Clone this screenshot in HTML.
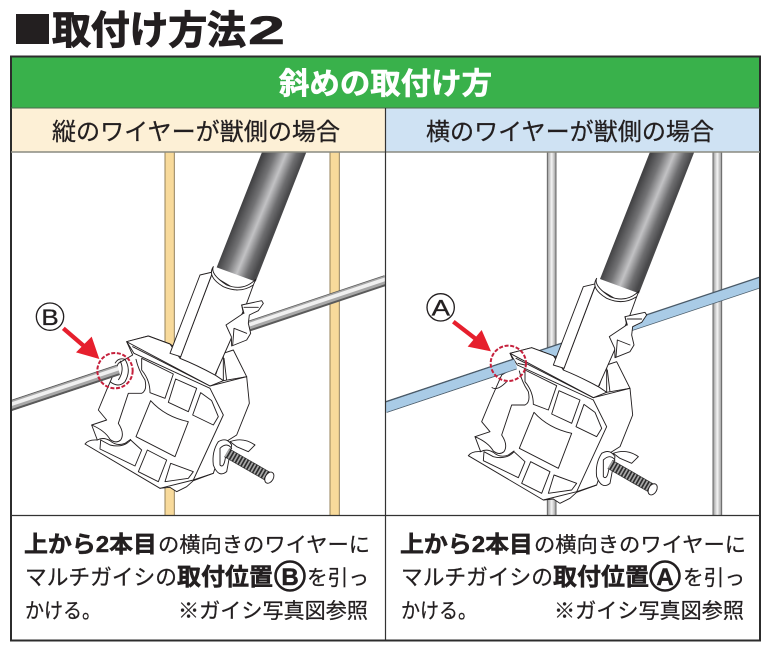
<!DOCTYPE html>
<html lang="ja"><head><meta charset="utf-8"><style>
html,body{margin:0;padding:0;background:#fff}
svg{display:block}
text{font-family:"Liberation Sans","Noto Sans CJK JP",sans-serif;fill:#231f20;stroke:#231f20;stroke-width:.25px}
.b{font-weight:700;stroke-width:.5px}
</style></head><body>
<svg width="771" height="648" viewBox="0 0 771 648" xmlns="http://www.w3.org/2000/svg">
<defs>
<linearGradient id="pipe" gradientUnits="userSpaceOnUse" x1="690" y1="180" x2="797" y2="224">
<stop offset="0" stop-color="#434345"/><stop offset=".28" stop-color="#737375"/><stop offset=".55" stop-color="#c2c2c4"/><stop offset=".8" stop-color="#6e6e70"/><stop offset="1" stop-color="#48484a"/>
</linearGradient>
<linearGradient id="vg" x1="0" x2="1" y1="0" y2="0"><stop offset="0" stop-color="#999"/><stop offset=".5" stop-color="#f4f4f4"/><stop offset="1" stop-color="#999"/></linearGradient>
<clipPath id="cl"><rect x="-1" y="6" width="1130" height="1091"/></clipPath>
<g id="clamp" stroke="#231f20" stroke-width="2.800" stroke-linejoin="round" stroke-linecap="round" fill="#fff">
<polygon points="782,-60 915,-60 737,395 620,352" fill="url(#pipe)" stroke="none"/>
<!-- back gusset -->
<path d="M640 610 L670 600 L710 680 L640 695Z"/>
<path d="M635 618 L618 672 M642 625 L650 692" fill="none"/>
<!-- body silhouette -->
<path d="M350 575 L415 558 L480 582 L615 675 L640 692 L710 680 L718 760 L680 855 L640 880 L610 970 L550 992 L530 1010 L500 1025 L480 1012 L450 1015 L225 882 Q235 868 262 870 L245 825 L290 810 L265 780 L292 715 L325 640 L368 615Z"/>
<!-- plate -->
<path d="M350 575 L415 558 L480 582 L510 625 Q560 645 615 675 L640 692 L600 708Z"/>
<path d="M352 578 L372 610 L600 715 M368 590 L600 708" fill="none"/>
<!-- frame edge -->
<path d="M600 715 L640 795 L550 990 L450 1015 M600 708 L710 680 M550 990 L610 970" fill="none"/>
<!-- slot -->
<path d="M378 628 Q385 660 405 690 Q412 722 395 730 L355 730 L325 820 Q345 850 332 870 Q318 882 300 868 Q285 842 245 825" fill="none"/>
<path d="M262 870 Q280 860 300 872 Q320 890 345 880 L362 868" fill="none"/>
<!-- windows -->
<path d="M395 625 L490 672 L465 745 L420 728 Q420 690 395 660Z"/>
<path d="M497 687 L560 715 L535 785 L475 757Z"/>
<path d="M572 728 L605 752 L625 800 L610 825 L548 795Z"/>
<path d="M422 752 Q465 800 535 815 L495 920 L378 860Z"/>
<path d="M272 870 L300 885 Q340 895 362 870 L395 900 L375 948 L270 897Z"/>
<path d="M412 900 L470 930 L445 995 L385 965Z"/>
<path d="M482 940 L550 965 L535 985 L465 995Z"/>
<!-- bolt & wing nut -->
<path d="M660 875 Q700 860 735 885 L715 905 L680 890Z"/>
<path d="M625 875 Q650 860 665 885 L650 965 Q625 985 610 945 Q605 905 625 875Z"/>
<path d="M630 895 Q650 875 665 895 Q648 905 645 930 Q640 955 630 945Z"/>
<line x1="650" y1="908" x2="775" y2="980" stroke="#2c2c2c" stroke-width="30" stroke-linecap="butt"/>
<line x1="650" y1="908" x2="775" y2="980" stroke="#a8a8a8" stroke-width="26" stroke-dasharray="5 5" stroke-linecap="butt"/>
<ellipse cx="778" cy="983" rx="12" ry="18" transform="rotate(30 778 983)"/>
<!-- sleeve -->
<path d="M605 375 L680 420 L730 405 L710 460 L655 585 L615 675 Q560 645 510 625 Z"/>
<path d="M570 375 L608 366 L512 620 L480 610Z"/>
<path d="M610 350 Q600 372 650 405 Q700 425 737 388 L730 405 Q690 432 640 410 Q590 380 610 350Z"/>
<!-- clip -->
<path d="M695 465 L755 452 L760 460 L745 482 L718 495 L715 520 L722 550 L710 570 L665 588 L664 560 L648 525 L700 490Z"/>
<path d="M672 535 L710 550 M668 585 L672 535 M702 472 L745 472 M695 465 L702 490" fill="none"/>
</g>
</defs>

<!-- title -->
<rect x="16" y="14" width="33" height="30" fill="#231f20"/>
<text x="52" y="44" class="b" font-size="39" style="stroke-width:1px" textLength="194" lengthAdjust="spacing">取付け方法</text>
<text x="248" y="44" class="b" font-size="40" style="stroke-width:.6px" textLength="37" lengthAdjust="spacingAndGlyphs">2</text>

<!-- frame fills -->
<rect x="11" y="57" width="749" height="51" fill="#39b14b"/>
<rect x="11" y="108" width="374" height="44" fill="#fdf0d6"/>
<rect x="385" y="108" width="375" height="44" fill="#cfe2f3"/>

<!-- left panel -->
<svg x="10" y="150" width="376" height="366" viewBox="0 0 1128 1098">
<g clip-path="url(#cl)">
<rect x="465" y="0" width="28" height="1100" fill="#f8da9b" stroke="#94825a" stroke-width="3"/>
<rect x="960" y="0" width="28" height="1100" fill="#f8da9b" stroke="#94825a" stroke-width="3"/>
<path d="M0 768 L1128 391" stroke="#5a5a5a" stroke-width="32" fill="none"/>
<path d="M0 766 L1128 389" stroke="#a8a8a8" stroke-width="24" fill="none"/>
<path d="M0 764 L1128 387" stroke="#f0f0f0" stroke-width="11" fill="none"/>
<use href="#clamp"/>
<path d="M0 768 L325 660" stroke="#5a5a5a" stroke-width="32" fill="none"/>
<path d="M0 766 L325 658" stroke="#a8a8a8" stroke-width="24" fill="none"/>
<path d="M0 764 L325 656" stroke="#f0f0f0" stroke-width="11" fill="none"/>
<path d="M315 640 Q325 622 345 628 Q365 660 345 695 Q325 715 300 695" fill="none" stroke="#231f20" stroke-width="2.800"/>
<path d="M330 632 Q345 660 325 690" fill="none" stroke="#231f20" stroke-width="2.800"/>
<circle cx="315" cy="662" r="53" fill="none" stroke="#c5203c" stroke-width="6" stroke-dasharray="12 5"/>
<path d="M160 535 L232 597" stroke="#e61f2d" stroke-width="13" fill="none"/>
<polygon points="245,560 268,627 198,607" fill="#e61f2d"/>
<circle cx="120" cy="500" r="41" fill="#fff" stroke="#231f20" stroke-width="4"/>
<text x="94" y="525" font-size="66" textLength="52" lengthAdjust="spacingAndGlyphs" style="stroke-width:1px">B</text>
</g>
</svg>

<!-- right panel -->
<svg x="385" y="150" width="376" height="366" viewBox="0 0 1128 1098">
<g clip-path="url(#cl)">
<rect x="487" y="0" width="26" height="1100" fill="url(#vg)" stroke="#666" stroke-width="3"/>
<rect x="984" y="0" width="26" height="1100" fill="url(#vg)" stroke="#666" stroke-width="3"/>
<path d="M0 772 L1128 396" stroke="#4a5a68" stroke-width="34" fill="none"/>
<path d="M0 773 L1128 397" stroke="#a9cbe6" stroke-width="28" fill="none"/>
<use href="#clamp" x="25" y="35"/>
<path d="M0 772 L390 642" stroke="#4a5a68" stroke-width="34" fill="none"/>
<path d="M0 773 L392 642" stroke="#a9cbe6" stroke-width="28" fill="none"/>
<path d="M320 712 Q335 725 365 695 M398 640 L420 645" fill="none" stroke="#231f20" stroke-width="2.800"/>
<circle cx="370" cy="640" r="53" fill="none" stroke="#c5203c" stroke-width="6" stroke-dasharray="12 5"/>
<path d="M205 515 L283 575" stroke="#e61f2d" stroke-width="13" fill="none"/>
<polygon points="290,540 318,604 248,590" fill="#e61f2d"/>
<circle cx="167" cy="472" r="41" fill="#fff" stroke="#231f20" stroke-width="4"/>
<text x="140" y="497" font-size="66" textLength="55" lengthAdjust="spacingAndGlyphs" style="stroke-width:1px">A</text>
</g>
</svg>

<!-- frame lines -->
<rect x="11" y="56.500" width="749" height="584" fill="none" stroke="#2c2c2c" stroke-width="2"/>
<line x1="11" y1="108" x2="760" y2="108" stroke="#4c6b4f" stroke-width="1"/>
<line x1="11" y1="152" x2="760" y2="152" stroke="#8a8a80" stroke-width="1.500"/>
<line x1="11" y1="515.500" x2="760" y2="515.500" stroke="#333" stroke-width="1.200"/>
<line x1="385.500" y1="108" x2="385.500" y2="640" stroke="#333" stroke-width="1.200"/>

<!-- headers -->
<text x="279" y="94" font-size="30" class="b" style="fill:#fff;stroke:#fff;stroke-width:.6px" textLength="213" lengthAdjust="spacingAndGlyphs">斜めの取付け方</text>
<text x="52" y="140" font-size="24" textLength="288" lengthAdjust="spacingAndGlyphs">縦のワイヤーが獣側の場合</text>
<text x="426" y="140" font-size="24" textLength="288" lengthAdjust="spacingAndGlyphs">横のワイヤーが獣側の場合</text>

<!-- left caption -->
<text x="24" y="552" font-size="23" class="b" textLength="133" lengthAdjust="spacingAndGlyphs">上から2本目</text>
<text x="158" y="552" font-size="21" textLength="212" lengthAdjust="spacingAndGlyphs">の横向きのワイヤーに</text>
<text x="25" y="585" font-size="22" textLength="152" lengthAdjust="spacingAndGlyphs">マルチガイシの</text>
<text x="177" y="585" font-size="24" class="b" textLength="96" lengthAdjust="spacingAndGlyphs">取付位置</text>
<circle cx="290" cy="576" r="14.500" fill="none" stroke="#231f20" stroke-width="2.600"/>
<text x="290" y="585" font-size="24" class="b" text-anchor="middle">B</text>
<text x="307" y="585" font-size="21" textLength="62" lengthAdjust="spacingAndGlyphs">を引っ</text>
<text x="25" y="618" font-size="21" textLength="76" lengthAdjust="spacingAndGlyphs">かける。</text>
<text x="178" y="618" font-size="21" textLength="190" lengthAdjust="spacingAndGlyphs">※ガイシ写真図参照</text>

<!-- right caption -->
<text x="400" y="552" font-size="23" class="b" textLength="133" lengthAdjust="spacingAndGlyphs">上から2本目</text>
<text x="534" y="552" font-size="21" textLength="212" lengthAdjust="spacingAndGlyphs">の横向きのワイヤーに</text>
<text x="401" y="585" font-size="22" textLength="152" lengthAdjust="spacingAndGlyphs">マルチガイシの</text>
<text x="553" y="585" font-size="24" class="b" textLength="96" lengthAdjust="spacingAndGlyphs">取付位置</text>
<circle cx="665" cy="576" r="14.500" fill="none" stroke="#231f20" stroke-width="2.600"/>
<text x="665" y="585" font-size="24" class="b" text-anchor="middle">A</text>
<text x="683" y="585" font-size="21" textLength="62" lengthAdjust="spacingAndGlyphs">を引っ</text>
<text x="401" y="618" font-size="21" textLength="76" lengthAdjust="spacingAndGlyphs">かける。</text>
<text x="554" y="618" font-size="21" textLength="190" lengthAdjust="spacingAndGlyphs">※ガイシ写真図参照</text>
</svg>
</body></html>
